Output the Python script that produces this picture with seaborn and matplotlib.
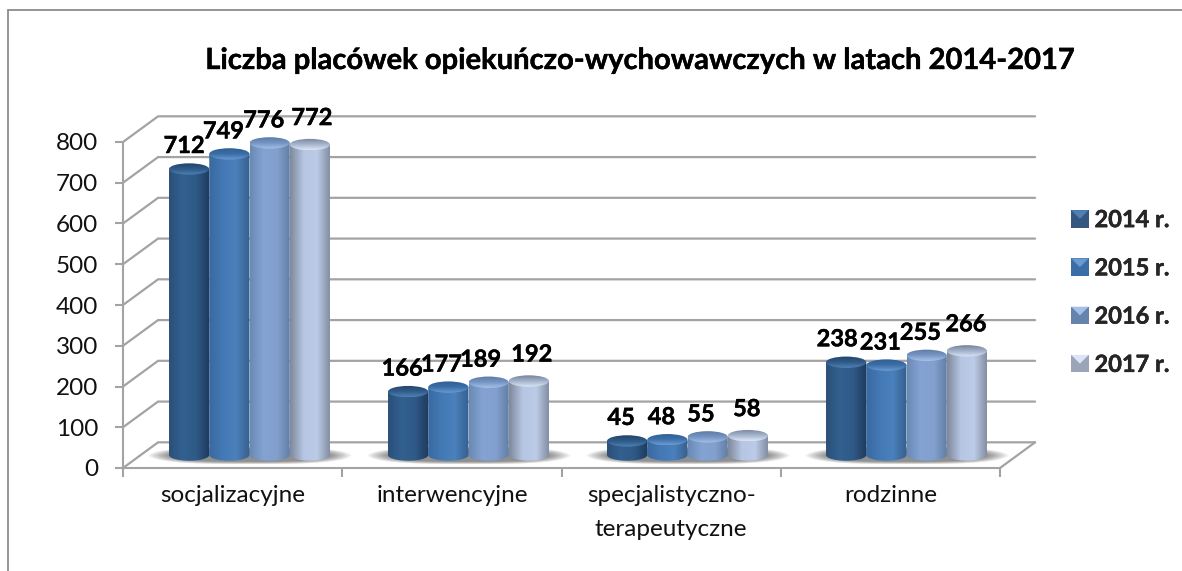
import numpy as np
import pandas as pd
import matplotlib
matplotlib.use('Agg')
import matplotlib.pyplot as plt
import matplotlib.patheffects as pe
import seaborn as sns
from matplotlib.colors import LinearSegmentedColormap
from matplotlib.legend_handler import HandlerBase
from matplotlib.lines import Line2D
from matplotlib.patches import Ellipse, PathPatch, Polygon, Rectangle
from matplotlib.path import Path

categories = ['socjalizacyjne', 'interwencyjne', 'specjalistyczno-\nterapeutyczne', 'rodzinne']
years = ['2014 r.', '2015 r.', '2016 r.', '2017 r.']
v2014 = [712, 166, 45, 238]
v2015 = [749, 177, 48, 231]
v2016 = [776, 189, 55, 255]
v2017 = [772, 192, 58, 266]
yticks = [0, 100, 200, 300, 400, 500, 600, 700, 800]
title = 'Liczba placówek opiekuńczo-wychowawczych w latach 2014-2017'

# cylinder colours per year: side left/mid/right, then cap top/highlight
side_cols = [['#2b5079', '#32608f', '#2f5a88', '#1e3a5c'],
             ['#3a69a0', '#4379b4', '#4a80bb', '#35608f'],
             ['#6a8ab5', '#84a3d3', '#82a0cd', '#5f7ca3'],
             ['#7f899c', '#b6c6e3', '#bccbe6', '#7f8a9e']]
cap_cols = [['#244668', '#2f5a88', '#4f80b5'],
            ['#2f5f94', '#3b6fa8', '#6a9ad0'],
            ['#5c7ba5', '#7695c3', '#a5c0e8'],
            ['#77849a', '#a3b2cc', '#dbe5f5']]
legend_cols = [('#34567f', '#4f80b5'), ('#3b6ea6', '#6a9ad0'), ('#6483ad', '#a5c0e8'), ('#9aa5b8', '#dbe5f5')]

W, H = 1182, 571
GRID = '#a3a3a3'
BASE, SCALE = 459.3, 0.4077  # px of value 0 and px per unit for the cylinders
LIFT = 10.5  # cylinders stand a bit above the value 0 line
THICK = [pe.withStroke(linewidth=0.3, foreground='black')]

sns.set_theme(style='white')
plt.rcParams['font.family'] = ['Lato', 'DejaVu Sans']

fig = plt.figure(figsize=(W / 100, H / 100), dpi=100, facecolor='white')


def px_axes(left, right, top, bottom):
    return fig.add_axes([left / W, 1 - bottom / H, (right - left) / W, (bottom - top) / H])


# outer chart border, only top and left show
for xs, ys in [((7.5, 7.5), (571, 9.5)), ((7.5, 1182), (9.5, 9.5))]:
    fig.add_artist(Line2D([x / W for x in xs], [1 - y / H for y in ys], color='#8c8c8c', lw=1.3))

# front plane axes: carries ticks, labels and the "3d" walls
frame = px_axes(123, 1000, 142, 468)
frame.set_xlim(-0.5, 3.5)
frame.set_ylim(0, 800)
frame.patch.set_alpha(0)
sns.despine(ax=frame, top=True, right=True)
for s in ['left', 'bottom']:
    frame.spines[s].set_color(GRID)
    frame.spines[s].set_linewidth(1.5)
frame.set_yticks(yticks)
frame.set_xticks(range(4))
frame.set_xticklabels(categories, fontsize=17.5, color='#111111', linespacing=1.78)
frame.set_xticks(np.arange(-0.5, 4), minor=True)
frame.tick_params(axis='x', which='major', length=0, pad=12)
frame.tick_params(axis='x', which='minor', length=6.5, width=1.5, color=GRID, bottom=True)
frame.tick_params(axis='y', length=6, width=1.5, color=GRID, labelsize=17.5, labelcolor='#111111', pad=12, left=True)

dx, dy = 0.16, 63
for v in yticks:
    frame.plot([-0.5, -0.5 + dx, 3.5 + dx], [v, v + dy, v + dy], color=GRID, lw=1.6, clip_on=False, solid_joinstyle='miter')
frame.plot([3.5, 3.5 + dx], [0, dy], color=GRID, lw=1.6, clip_on=False)

bars = px_axes(140, 1016, BASE - 850 * SCALE, BASE + 50 * SCALE)
bars.patch.set_alpha(0)

df = pd.DataFrame({
    'kategoria': categories * 4,
    'rok': np.repeat(years, 4),
    'liczba': v2014 + v2015 + v2016 + v2017,
})
sns.barplot(data=df, x='kategoria', y='liczba', hue='rok', hue_order=years, order=categories,
            width=0.735, gap=0, legend=False, ax=bars, palette=[c[1] for c in side_cols])
bars.set_xlim(-0.5, 3.5)
bars.set_ylim(-50, 850)
bars.axis('off')

# floor shadows behind each group, fades out at the edges
gx, gy = np.meshgrid(np.linspace(-1, 1, 205), np.linspace(-1, 1, 20))
shadow = np.clip(1 - (np.abs(gx) ** 3 + np.abs(gy) ** 2), 0, 1)
rgba = np.zeros(gx.shape + (4,))
rgba[..., :3] = 0.42
rgba[..., 3] = np.clip(shadow * 1.4, 0, 0.75)
for i in range(4):
    bars.imshow(rgba, extent=(i - 0.47, i + 0.47, -15, 31), aspect='auto', zorder=1, interpolation='nearest')

ry = 5.7 / SCALE
for j, cont in enumerate(bars.containers):
    side = LinearSegmentedColormap.from_list('side', side_cols[j])
    cap = LinearSegmentedColormap.from_list('cap', cap_cols[j])
    for rect in cont:
        x0, w, h = rect.get_x(), rect.get_width(), rect.get_height()
        rect.set_visible(False)
        t = np.linspace(np.pi, 2 * np.pi, 40)
        verts = [(x0, h)] + list(zip(x0 + w / 2 + w / 2 * np.cos(t), LIFT + ry * np.sin(t))) + [(x0 + w, h), (x0, h)]
        body = PathPatch(Path(verts), transform=bars.transData, fc='none', ec='none')
        bars.add_patch(body)
        im = bars.imshow(np.linspace(0, 1, 64).reshape(1, -1), cmap=side, vmin=0, vmax=1,
                         extent=(x0, x0 + w, LIFT - ry, h), aspect='auto', zorder=2 + j, interpolation='bilinear')
        im.set_clip_path(body)
        top = Ellipse((x0 + w / 2, h), w, 2 * ry, transform=bars.transData, fc='none', ec='none')
        bars.add_patch(top)
        im = bars.imshow(np.linspace(0, 1, 32).reshape(-1, 1), cmap=cap, vmin=0, vmax=1,
                         extent=(x0, x0 + w, h - ry, h + ry), aspect='auto', zorder=2.5 + j, interpolation='bilinear')
        im.set_clip_path(top)
bars.set_xlim(-0.5, 3.5)
bars.set_ylim(-50, 850)

# value labels, nudged by hand like the excel ones (px, per year and category)
nudge_x = [[-5, -6, -6, -9], [-6, -7, -6, -6], [-6, -8, -6.5, -6], [2, 3, -1, -1]]
nudge_y = [23.5, 23, 23, 27]
for j, cont in enumerate(bars.containers):
    for i, rect in enumerate(cont):
        h = rect.get_height()
        bars.annotate(f'{h:.0f}', (rect.get_x() + rect.get_width() / 2, h),
                      xytext=(nudge_x[j][i] * 0.72, nudge_y[j] * 0.72), textcoords='offset points',
                      ha='center', va='center', fontsize=17, fontweight='bold', color='black',
                      zorder=20, annotation_clip=False, path_effects=THICK)

fig.text(640 / W, 1 - 61 / H, title, ha='center', va='center', fontsize=21, fontweight='bold', color='black',
         path_effects=THICK)


class BevelHandler(HandlerBase):
    def create_artists(self, legend, handle, xdescent, ydescent, width, height, fontsize, trans):
        s = 12.5
        x, y = xdescent + width - s, -ydescent + (height - s) / 2
        base, light = handle.get_facecolor(), handle.get_edgecolor()
        sq = Rectangle((x, y), s, s, fc=base, ec='none', transform=trans)
        tri = Polygon([(x, y + s), (x + s, y + s), (x + s / 2, y + s / 2)], fc=light, ec='none', transform=trans)
        return [sq, tri]


handles = [Rectangle((0, 0), 1, 1, fc=a, ec=b) for a, b in legend_cols]
leg = bars.legend(handles, years, handler_map={Rectangle: BevelHandler()}, loc='center left',
                  bbox_to_anchor=(1065 / W, 1 - 292 / H), bbox_transform=fig.transFigure,
                  frameon=False, labelspacing=1.07, handlelength=1, handletextpad=0.25,
                  borderpad=0, borderaxespad=0, prop={'weight': 'bold', 'size': 17})
for t in leg.get_texts():
    t.set_path_effects(THICK)

fig.savefig('out.png', dpi=100)
